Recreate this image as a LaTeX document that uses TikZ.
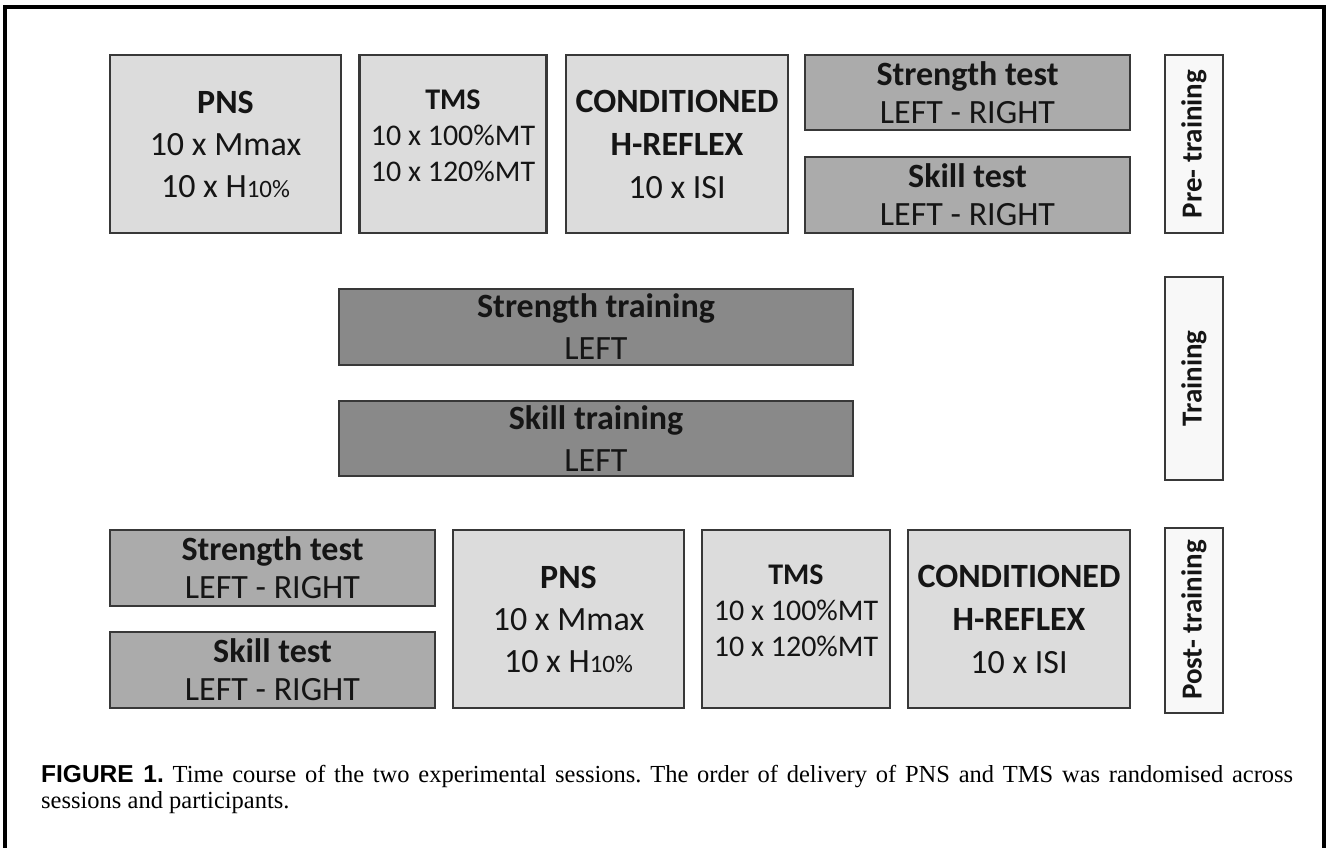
\documentclass[tikz,border=0pt]{standalone}
\usepackage{fontspec}
\setmainfont{Liberation Serif}
\newfontfamily\calfont{Carlito}
\newfontfamily\helvfont{Liberation Sans}
\definecolor{lightbox}{HTML}{DCDCDC}
\definecolor{midbox}{HTML}{ABABAB}
\definecolor{darkbox}{HTML}{898989}
\definecolor{edgec}{HTML}{383838}
\definecolor{labelbox}{HTML}{F8F8F8}
\definecolor{txt}{HTML}{151515}
\tikzset{
  box/.style={draw=edgec, line width=2.5pt, inner sep=0pt, align=center, text=txt,
    font=\calfont\fontsize{34}{42}\selectfont},
  lightb/.style={box, fill=lightbox},
  tmsb/.style={box, fill=lightbox, font=\calfont\fontsize{30}{36}\selectfont},
  testb/.style={box, fill=midbox, font=\calfont\fontsize{34}{38}\selectfont},
  trainb/.style={box, fill=darkbox},
  phase/.style={draw=edgec, line width=2pt, fill=labelbox, inner sep=0pt, rotate=90,
    text=txt, font=\calfont\bfseries\fontsize{29}{34}\selectfont,
    minimum height=58},
}
\newcommand{\hten}{10 x H{\fontsize{25}{25}\selectfont 10\%}}
\frenchspacing
\begin{document}
\begin{tikzpicture}[x=1pt,y=-1pt]
\useasboundingbox (0,0) rectangle (1327,848);
% frame
\draw[line width=4pt, line join=miter] (5,860) -- (5,7.5) -- (1323.5,7.5) -- (1323.5,860);

% pre-training row
\node[lightb, minimum width=231, minimum height=178] (pns1) at (225.5,144)
  {\textbf{PNS}\\10 x Mmax\\\hten};
\node[tmsb, minimum width=187, minimum height=178] (tms1) at (453,144)
  {\textbf{TMS}\\10 x 100\%MT\\10 x 120\%MT\\[-20pt]\mbox{}};
\node[lightb, minimum width=222, minimum height=178, font=\calfont\fontsize{34}{43}\selectfont] (cond1) at (677,144)
  {\textbf{CONDITIONED}\\\textbf{H-REFLEX}\\10 x ISI};
\node[testb, minimum width=325, minimum height=75] (str1) at (967.5,92.5)
  {\textbf{Strength test}\\LEFT - RIGHT};
\node[testb, minimum width=325, minimum height=76] (skl1) at (967.5,195)
  {\textbf{Skill test}\\LEFT - RIGHT};
\node[phase, minimum width=178] (pre) at (1194,144) {Pre- training};

% training
\node[trainb, minimum width=514, minimum height=76] (strt) at (596,327)
  {\textbf{Strength training}\\LEFT};
\node[trainb, minimum width=514, minimum height=75] (sklt) at (596,438.5)
  {\textbf{Skill training}\\LEFT};
\node[phase, minimum width=203] (tr) at (1194,378.5) {Training};

% post-training row
\node[testb, minimum width=325, minimum height=76] (str2) at (272.5,568)
  {\textbf{Strength test}\\LEFT - RIGHT};
\node[testb, minimum width=325, minimum height=76] (skl2) at (272.5,670)
  {\textbf{Skill test}\\LEFT - RIGHT};
\node[lightb, minimum width=231, minimum height=178] (pns2) at (568.5,619)
  {\textbf{PNS}\\10 x Mmax\\\hten};
\node[tmsb, minimum width=188, minimum height=178] (tms2) at (796,619)
  {\textbf{TMS}\\10 x 100\%MT\\10 x 120\%MT\\[-20pt]\mbox{}};
\node[lightb, minimum width=222, minimum height=178, font=\calfont\fontsize{34}{43}\selectfont] (cond2) at (1019,619)
  {\textbf{CONDITIONED}\\\textbf{H-REFLEX}\\10 x ISI};
\node[phase, minimum width=185] (post) at (1194,620) {Post- training};

% caption
\node[anchor=north west, inner sep=0pt, align=left, text=black,
  font=\fontsize{24.5}{26}\selectfont] (cap) at (41,765)
  {\makebox[1252pt][s]{{\helvfont\bfseries FIGURE 1.} Time course of the two experimental sessions. The order of delivery of PNS and TMS was randomised across}\\
   sessions and participants.};
\end{tikzpicture}
\end{document}
